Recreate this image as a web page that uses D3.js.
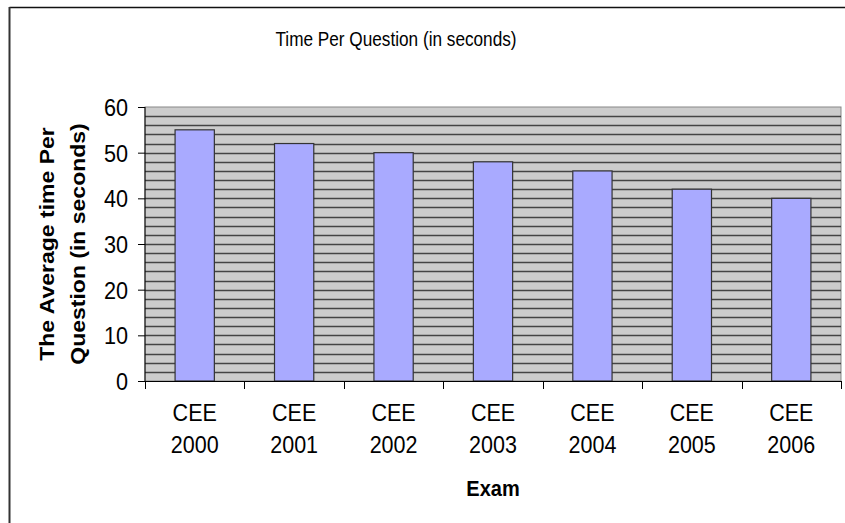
<!DOCTYPE html>
<html>
<head>
<meta charset="utf-8">
<script src="https://cdn.jsdelivr.net/npm/d3@7/dist/d3.min.js"></script>
<style>
  html, body { margin: 0; padding: 0; background: #fff; }
  svg { display: block; font-family: "Liberation Sans", Arial, sans-serif; }
</style>
</head>
<body>
<svg id="chart" width="845" height="523"></svg>
<script>
// Exam categories (two-line labels) and average seconds per question
const examNames = ["CEE", "CEE", "CEE", "CEE", "CEE", "CEE", "CEE"];
const examYears = ["2000", "2001", "2002", "2003", "2004", "2005", "2006"];
const secondsPerQuestion = [55, 52, 50, 48, 46, 42, 40];
const yTicks = [0, 10, 20, 30, 40, 50, 60];
const gridValues = d3.range(2, 60, 2);

const svg = d3.select("#chart");
const W = 845, H = 523;
const plot = { left: 145, right: 841, top: 107, bottom: 381 };
const tall = 1.13; // vertical stretch of the label glyphs

// chart frame (only top and left edges fall inside the canvas)
svg.append("line").attr("x1", 9.5).attr("x2", W).attr("y1", 7.5).attr("y2", 7.5)
  .attr("stroke", "#111").attr("stroke-width", 1.5);
svg.append("line").attr("x1", 9.5).attr("x2", 9.5).attr("y1", 7).attr("y2", H)
  .attr("stroke", "#333").attr("stroke-width", 2);

const keys = examYears.map((d, i) => i);
const x = d3.scaleBand().domain(keys).range([plot.left, plot.right]).paddingInner(0.605).paddingOuter(0.3025);
const y = d3.scaleLinear().domain([0, 60]).range([plot.bottom, plot.top]);

// plot background
svg.append("rect")
  .attr("x", plot.left).attr("y", plot.top)
  .attr("width", plot.right - plot.left).attr("height", plot.bottom - plot.top)
  .attr("fill", "#cccccc").attr("stroke", "#888").attr("stroke-width", 1);

// horizontal gridlines every 2 seconds
svg.append("g").selectAll("line").data(gridValues).join("line")
  .attr("x1", plot.left).attr("x2", plot.right)
  .attr("y1", d => Math.round(y(d)) + 0.5).attr("y2", d => Math.round(y(d)) + 0.5)
  .attr("stroke", "#444").attr("stroke-width", 1.4);

// bars
svg.append("g").selectAll("rect").data(secondsPerQuestion).join("rect")
  .attr("x", (d, i) => x(i))
  .attr("y", d => y(d))
  .attr("width", x.bandwidth())
  .attr("height", d => y(0) - y(d))
  .attr("fill", "#a9aaff")
  .attr("stroke", "#333").attr("stroke-width", 1.2);

// y axis
const yAxis = d3.axisLeft(y).tickValues(yTicks).tickSize(7).tickPadding(10);
const gy = svg.append("g").attr("transform", `translate(${plot.left},0)`).call(yAxis);
gy.select(".domain").attr("stroke", "#000").attr("d", `M0,${plot.bottom}V${plot.top}`);
gy.selectAll(".tick line").attr("stroke", "#000");
gy.selectAll(".tick text")
  .attr("font-size", 21).attr("fill", "#000")
  .attr("font-family", "Liberation Sans, Arial, sans-serif")
  .attr("x", 0).attr("dy", "0.36em")
  .attr("transform", `translate(-17,0) scale(1.03,${tall})`);

// x axis with ticks at category boundaries
const step = x.step();
const boundaries = d3.range(0, examYears.length + 1).map(i => plot.left + i * step);
const gx = svg.append("g");
gx.append("line").attr("x1", plot.left).attr("x2", plot.right)
  .attr("y1", plot.bottom + 0.5).attr("y2", plot.bottom + 0.5).attr("stroke", "#000");
gx.selectAll("line.tk").data(boundaries).join("line").attr("class", "tk")
  .attr("x1", d => Math.round(d) + 0.5).attr("x2", d => Math.round(d) + 0.5)
  .attr("y1", plot.bottom).attr("y2", plot.bottom + 8).attr("stroke", "#000");

const labels = svg.append("g").attr("font-size", 21.5).attr("text-anchor", "middle").attr("fill", "#000");
labels.selectAll("text.n").data(examNames).join("text").attr("class", "n")
  .attr("transform", (d, i) => `translate(${x(i) + x.bandwidth() / 2},421) scale(1,${tall})`)
  .text(d => d);
labels.selectAll("text.yr").data(examYears).join("text").attr("class", "yr")
  .attr("transform", (d, i) => `translate(${x(i) + x.bandwidth() / 2},453) scale(1,${tall})`)
  .text(d => d);

// titles
svg.append("text").attr("transform", `translate(396,46) scale(1,${tall})`).attr("text-anchor", "middle")
  .attr("font-size", 17.2).text("Time Per Question (in seconds)");

svg.append("text").attr("transform", `translate(${(plot.left + plot.right) / 2},496) scale(1,${tall})`)
  .attr("text-anchor", "middle").attr("font-size", 20).attr("font-weight", "bold").text("Exam");

const yTitle = svg.append("text")
  .attr("transform", `translate(0,${(plot.top + plot.bottom) / 2}) rotate(-90) scale(1.15,1)`)
  .attr("text-anchor", "middle").attr("font-size", 20).attr("font-weight", "bold");
yTitle.append("tspan").attr("x", 0).attr("y", 54).text("The Average time Per");
yTitle.append("tspan").attr("x", 0).attr("y", 85).text("Question (in seconds)");
</script>
</body>
</html>
